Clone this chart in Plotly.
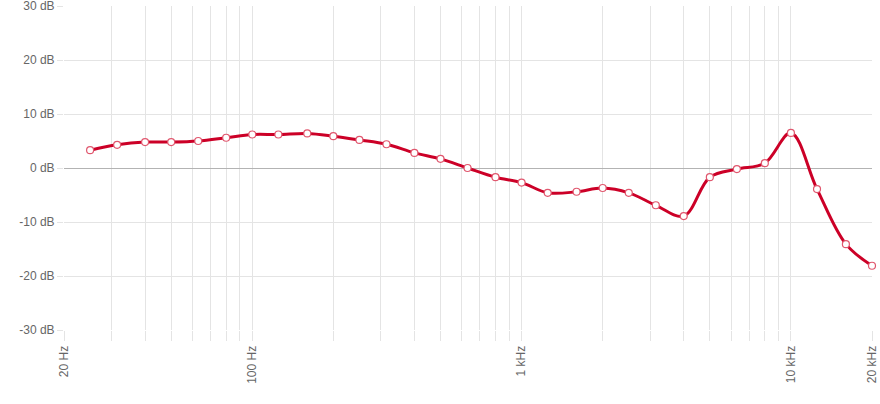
import plotly.graph_objects as go
import math

freqs_hz = [25, 31.5, 40, 50, 63, 80, 100, 125, 160, 200, 250, 315, 400, 500, 630, 800,
            1000, 1250, 1600, 2000, 2500, 3150, 4000, 5000, 6300, 8000, 10000, 12500, 16000, 20000]
gain_db = [3.3, 4.3, 4.8, 4.8, 5.0, 5.6, 6.2, 6.2, 6.4, 5.9, 5.2, 4.4, 2.8, 1.7, 0.0, -1.7,
           -2.7, -4.6, -4.4, -3.7, -4.6, -6.9, -8.9, -1.7, -0.2, 0.9, 6.5, -3.9, -14.1, -18.1]

grid_freqs = [20, 30, 40, 50, 60, 70, 80, 90, 100, 200, 300, 400, 500, 600, 700, 800, 900,
              1000, 2000, 3000, 4000, 5000, 6000, 7000, 8000, 9000, 10000, 20000]
freq_labels = {20: "20 Hz", 100: "100 Hz", 1000: "1 kHz", 10000: "10 kHz", 20000: "20 kHz"}
grid_text = [freq_labels.get(f, "") for f in grid_freqs]

db_ticks = [-30, -20, -10, 0, 10, 20, 30]
db_text = [f"{v} dB" for v in db_ticks]

fig = go.Figure()
fig.add_trace(go.Scatter(
    x=freqs_hz, y=gain_db, mode="lines+markers",
    line=dict(color="#cc0027", width=3, shape="spline", smoothing=1.0),
    marker=dict(size=7, color="white", line=dict(color="#e0576e", width=1.2)),
    cliponaxis=False,
    hoverinfo="x+y",
))

grid_col = "#e4e4e4"
fig.update_layout(
    width=880, height=404,
    margin=dict(l=64, r=8, t=6, b=74),
    paper_bgcolor="white", plot_bgcolor="white",
    showlegend=False,
    font=dict(family="Liberation Sans, Arial, sans-serif", size=12, color="#666666"),
    xaxis=dict(
        type="log", range=[math.log10(20), math.log10(20000)],
        tickmode="array", tickvals=grid_freqs, ticktext=grid_text,
        tickangle=-90, ticks="outside", ticklen=10, tickcolor=grid_col,
        showgrid=True, gridcolor=grid_col, gridwidth=1,
        showline=False, zeroline=False, automargin=False,
        ticklabeloverflow="allow",
        tickfont=dict(size=12, color="#666666"),
    ),
    yaxis=dict(
        range=[-30, 30], tickmode="array", tickvals=db_ticks, ticktext=db_text,
        ticks="outside", ticklen=6, tickcolor=grid_col,
        showgrid=True, gridcolor=grid_col, gridwidth=1,
        zeroline=True, zerolinecolor="#b3b3b3", zerolinewidth=1,
        showline=False, automargin=False,
        ticklabeloverflow="allow",
        tickfont=dict(size=12, color="#666666"),
    ),
)

fig.write_html(
    "out.html",
    config={"displayModeBar": False},
    post_script="document.body.style.margin='0';document.body.style.overflow='hidden';",
)
